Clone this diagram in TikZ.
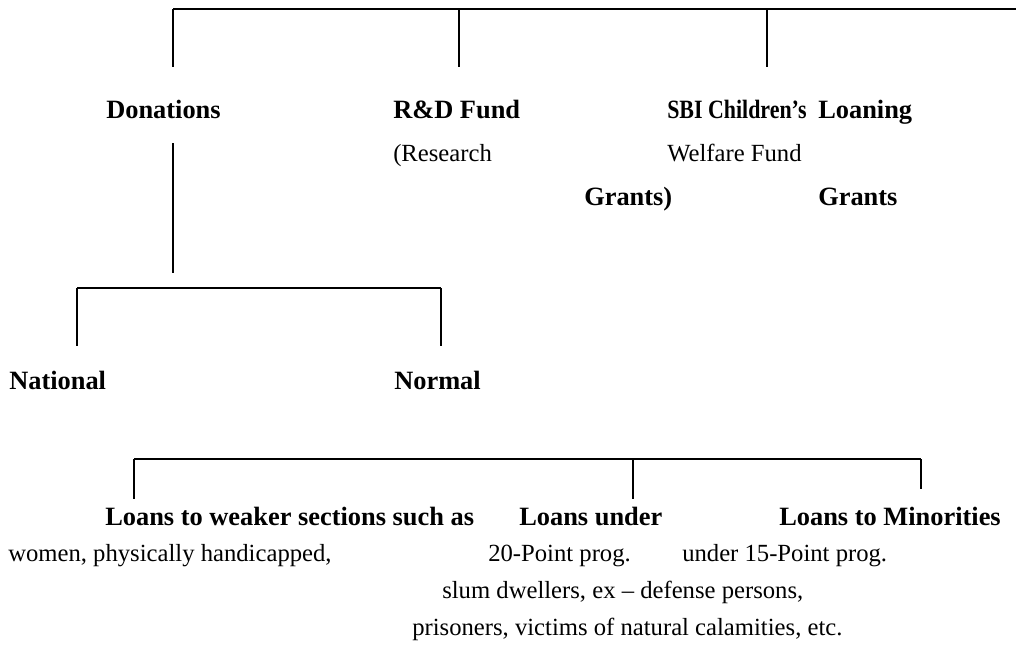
\documentclass[tikz,border=0pt]{standalone}
\usepackage{fontspec}
\setmainfont{Liberation Serif}
\usepackage{tikz}

\begin{document}
\begin{tikzpicture}[x=0.75pt,y=-0.75pt,
	head/.style={anchor=base west, inner sep=0pt, font=\fontsize{19.8}{22}\selectfont\bfseries},
	note/.style={anchor=base west, inner sep=0pt, font=\fontsize{18.5}{22}\selectfont},
	bar/.style={line width=1.1pt},
	stem/.style={line width=0.8pt}]
\useasboundingbox (0,0) rectangle (1016,665);
% first level
\node [head] (don) at (106,118) {Donations};
\node [head] (rd) at (393,118) {R\&D Fund};
\node [note] (rd2) at (393,161) {(Research};
\node [head] (rd3) at (584,205) {Grants)};
\node [head] (sbi) at (667,118) {\scalebox{0.83}[1]{SBI Children’s}};
\node [note] (sbi2) at (667,161) {Welfare Fund};
\node [head] (loan) at (818,118) {Loaning};
\node [head] (loan2) at (818,205) {Grants};
% donations
\node [head] (nat) at (9,389) {National};
\node [head] (norm) at (394,389) {Normal};
% loans
\node [head] (weak) at (105,525) {Loans to weaker sections such as};
\node [note] (weak2) at (8,561) {women, physically handicapped,};
\node [note] (weak3) at (442,598) {slum dwellers, ex – defense persons,};
\node [note] (weak4) at (412,635) {prisoners, victims of natural calamities, etc.};
\node [head] (twenty) at (519,525) {Loans under};
\node [note] (twenty2) at (488,561) {20-Point prog.};
\node [head] (minor) at (779,525) {Loans to Minorities};
\node [note] (minor2) at (682,561) {under 15-Point prog.};

\coordinate (a0) at (173,9);
\coordinate (a1) at (459,9);
\coordinate (a2) at (767,9);
\coordinate (a3) at (1016,9);
\coordinate (d0) at (173,143);
\coordinate (d1) at (173,273);
\coordinate (b0) at (77,288);
\coordinate (b1) at (441,288);
\coordinate (c0) at (134,459);
\coordinate (c1) at (633,459);
\coordinate (c2) at (921,459);

\draw [bar] (a0) -- (a3);
\draw [stem] (a0) -- ++(0,58);
\draw [stem] (a1) -- ++(0,58);
\draw [stem] (a2) -- ++(0,58);
\draw [stem] (d0) -- (d1);
\draw [bar] (b0) -- (b1);
\draw [stem] (b0) -- ++(0,58);
\draw [stem] (b1) -- ++(0,58);
\draw [bar] (c0) -- (c2);
\draw [stem] (c0) -- ++(0,40);
\draw [stem] (c1) -- ++(0,40);
\draw [stem] (c2) -- ++(0,30);
\end{tikzpicture}
\end{document}
